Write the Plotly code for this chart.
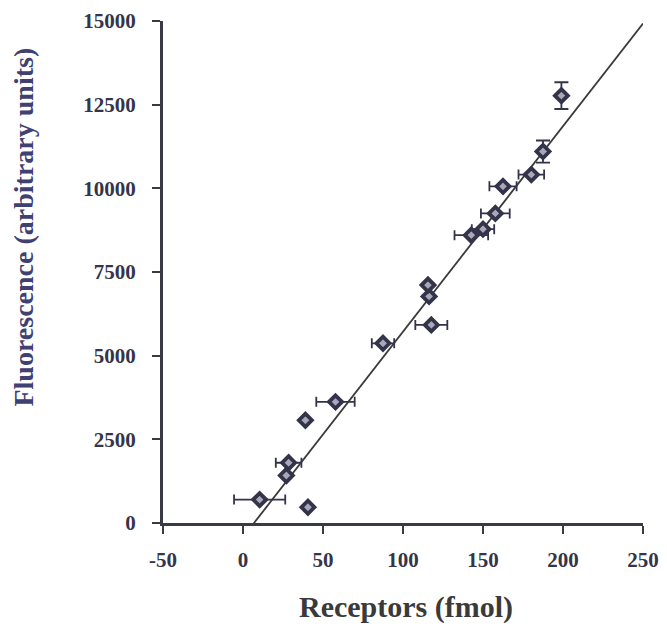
import numpy as np
import plotly.graph_objects as go

# Receptor amount (fmol) vs. fluorescence signal
receptors = [10.4, 40.6, 27.1, 28.5, 39.0, 57.8, 87.5, 117.7, 116.3, 115.6,
             142.7, 150.0, 157.7, 162.5, 180.2, 187.5, 199.0]
fluorescence = [700, 470, 1420, 1800, 3070, 3620, 5370, 5920, 6770, 7110,
                8600, 8780, 9250, 10060, 10410, 11100, 12770]
receptors_err = [16, 0, 0, 8, 0, 12, 7, 10, 0, 0,
                 10.5, 7, 9, 8.5, 8, 0, 0]
fluorescence_err = [0, 0, 0, 0, 0, 0, 0, 0, 0, 0,
                    0, 0, 0, 0, 0, 330, 400]

# Linear regression line
fit_slope = 61.4
fit_intercept = -423.0
fit_x = [-50, 250]

x_ticks = [-50, 0, 50, 100, 150, 200, 250]
y_ticks = [0, 2500, 5000, 7500, 10000, 12500, 15000]

axis_color = "#3a3a46"
mark_color = "#33334a"
font_family = "Liberation Serif, Times New Roman, serif"

fig = go.Figure()

fig.add_trace(go.Scatter(
    x=fit_x,
    y=[fit_slope * v + fit_intercept for v in fit_x],
    mode="lines",
    line=dict(color="#3a3a3a", width=1.8),
    hoverinfo="skip",
    showlegend=False,
))

fig.add_trace(go.Scatter(
    x=receptors,
    y=fluorescence,
    mode="markers",
    marker=dict(symbol="diamond", size=10, color="#a8a8b8",
                line=dict(color=mark_color, width=3.8)),
    error_x=dict(type="data", array=receptors_err, visible=True,
                 color=mark_color, thickness=1.8, width=5),
    error_y=dict(type="data", array=fluorescence_err, visible=True,
                 color=mark_color, thickness=1.8, width=7),
    showlegend=False,
))

tick_font = dict(family=font_family, size=21, color="#34344a")

fig.update_layout(
    width=667,
    height=629,
    margin=dict(l=163, r=24, t=21, b=106, autoexpand=False),
    paper_bgcolor="white",
    plot_bgcolor="white",
    font=dict(family=font_family),
    xaxis=dict(
        range=[-50, 250],
        tickvals=x_ticks,
        ticktext=[f"<b>{v}</b>" for v in x_ticks],
        tickfont=tick_font,
        showline=True, linewidth=3, linecolor=axis_color,
        ticks="outside", ticklen=8, tickwidth=2, tickcolor=axis_color,
        ticklabelstandoff=8,
        showgrid=False, zeroline=False, automargin=False,
    ),
    yaxis=dict(
        range=[0, 15000],
        tickvals=y_ticks,
        ticktext=[f"<b>{v}</b>" for v in y_ticks],
        tickfont=tick_font,
        showline=True, linewidth=3, linecolor=axis_color,
        ticks="outside", ticklen=8, tickwidth=2, tickcolor=axis_color,
        ticklabelstandoff=12,
        showgrid=False, zeroline=False, automargin=False,
    ),
    annotations=[
        dict(text="<b>Receptors (fmol)</b>", xref="paper", yref="paper",
             x=0.507, y=-0.168, xanchor="center", yanchor="middle",
             showarrow=False,
             font=dict(family=font_family, size=30, color="#3a3a3a")),
        dict(text="<b>Fluorescence (arbitrary units)</b>", xref="paper", yref="paper",
             x=(24 - 163.3) / 480, y=0.59, xanchor="center", yanchor="middle",
             textangle=-90, showarrow=False,
             font=dict(family=font_family, size=28, color="#3e4172")),
    ],
)

fig.write_html("out.html")
